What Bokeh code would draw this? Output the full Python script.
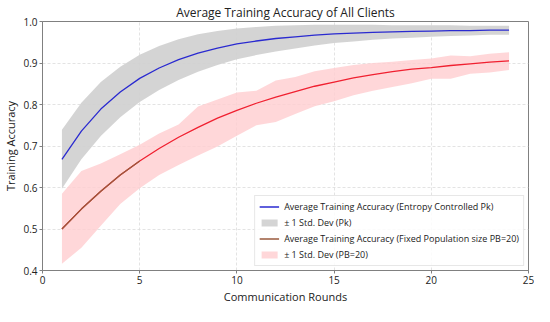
from bokeh.plotting import figure
from bokeh.models import ColumnDataSource, Legend, LegendItem, Range1d, FixedTicker, NumeralTickFormatter
from bokeh.embed import file_html
from bokeh.resources import INLINE

rounds = [1, 2, 3, 4, 5, 6, 7, 8, 9, 10, 11, 12, 13, 14, 15, 16, 17, 18, 19, 20, 21, 22, 23, 24]

pk_mean = [0.668, 0.736, 0.789, 0.830, 0.863, 0.888, 0.908, 0.924, 0.936, 0.946, 0.953, 0.959,
           0.963, 0.967, 0.970, 0.972, 0.974, 0.975, 0.976, 0.977, 0.978, 0.978, 0.979, 0.979]
pk_upper = [0.739, 0.804, 0.854, 0.891, 0.920, 0.941, 0.957, 0.969, 0.977, 0.983, 0.987, 0.990,
            0.991, 0.992, 0.992, 0.992, 0.992, 0.991, 0.991, 0.991, 0.991, 0.990, 0.990, 0.990]
pk_lower = [0.597, 0.668, 0.724, 0.769, 0.806, 0.835, 0.859, 0.879, 0.895, 0.909, 0.919, 0.928,
            0.935, 0.942, 0.948, 0.952, 0.956, 0.959, 0.961, 0.963, 0.965, 0.966, 0.968, 0.968]

pb_mean = [0.500, 0.548, 0.591, 0.630, 0.664, 0.694, 0.721, 0.745, 0.767, 0.786, 0.803, 0.818,
           0.831, 0.844, 0.854, 0.864, 0.872, 0.879, 0.885, 0.889, 0.894, 0.898, 0.902, 0.905]
pb_upper = [0.585, 0.640, 0.658, 0.680, 0.703, 0.730, 0.752, 0.795, 0.812, 0.829, 0.833, 0.858,
            0.866, 0.880, 0.888, 0.895, 0.900, 0.903, 0.907, 0.911, 0.918, 0.916, 0.922, 0.926]
pb_lower = [0.416, 0.455, 0.508, 0.560, 0.598, 0.630, 0.654, 0.677, 0.699, 0.725, 0.750, 0.758,
            0.777, 0.796, 0.808, 0.822, 0.833, 0.842, 0.851, 0.862, 0.862, 0.874, 0.877, 0.883]

x_ticks = [0, 5, 10, 15, 20, 25]
y_ticks = [0.4, 0.5, 0.6, 0.7, 0.8, 0.9, 1.0]

labels = [
    "Average Training Accuracy (Entropy Controlled Pk)",
    "\u00b1 1 Std. Dev (Pk)",
    "Average Training Accuracy (Fixed Population size PB=20)",
    "\u00b1 1 Std. Dev (PB=20)",
]

FONT = "Open Sans"
TXT = "#222222"

src = ColumnDataSource(dict(x=rounds, pkm=pk_mean, pku=pk_upper, pkl=pk_lower,
                            pbm=pb_mean, pbu=pb_upper, pbl=pb_lower))
n_brown = 5
src_brown = ColumnDataSource(dict(x=rounds[:n_brown], y=pb_mean[:n_brown]))

p = figure(width=534, height=306, output_backend="svg", toolbar_location=None,
           x_range=Range1d(0, 25), y_range=Range1d(0.4, 1.0),
           min_border_left=4, min_border_right=6, min_border_top=4, min_border_bottom=4)

p.title.text = "Average Training Accuracy of All Clients"
p.title.align = "center"
p.title.text_font = FONT
p.title.text_font_style = "normal"
p.title.text_font_size = "12px"
p.title.text_color = TXT
p.title.standoff = 2

band_pk = p.varea(x="x", y1="pkl", y2="pku", source=src, fill_color="#cfcfcf", fill_alpha=0.9)
line_pk = p.line(x="x", y="pkm", source=src, line_color="#2a2ad0", line_width=1.3)
band_pb = p.varea(x="x", y1="pbl", y2="pbu", source=src, fill_color="#ffcdd0", fill_alpha=0.8)
line_pb = p.line(x="x", y="pbm", source=src, line_color="#f02030", line_width=1.3)
line_br = p.line(x="x", y="y", source=src_brown, line_color="#9a5a3c", line_width=1.3)

p.xaxis.axis_label = "Communication Rounds"
p.yaxis.axis_label = "Training Accuracy"
for ax in (p.xaxis[0], p.yaxis[0]):
    ax.axis_label_text_font = FONT
    ax.axis_label_text_font_style = "normal"
    ax.axis_label_text_font_size = "11px"
    ax.axis_label_text_color = TXT
    ax.axis_label_standoff = 2
    ax.major_label_text_font = FONT
    ax.major_label_text_font_size = "10px"
    ax.major_label_text_color = TXT
    ax.major_label_standoff = 2
    ax.major_tick_out = 3
    ax.major_tick_in = 0
    ax.minor_tick_out = 0
    ax.minor_tick_in = 0
    ax.axis_line_color = "#808080"
    ax.major_tick_line_color = "#808080"
p.xaxis.ticker = FixedTicker(ticks=x_ticks)
p.yaxis.ticker = FixedTicker(ticks=y_ticks)
p.yaxis.formatter = NumeralTickFormatter(format="0.0")

p.outline_line_color = "#808080"
p.outline_line_width = 1
p.xgrid.ticker = FixedTicker(ticks=x_ticks)
p.ygrid.ticker = FixedTicker(ticks=y_ticks)
p.grid.grid_line_color = "#dcdcdc"
p.grid.grid_line_dash = "3 2"
p.grid.grid_line_alpha = 0.8

legend = Legend(items=[
    LegendItem(label=labels[0], renderers=[line_pk]),
    LegendItem(label=labels[1], renderers=[band_pk]),
    LegendItem(label=labels[2], renderers=[line_br]),
    LegendItem(label=labels[3], renderers=[band_pb]),
], location="bottom_right")
legend.label_text_font = FONT
legend.label_text_font_size = "9px"
legend.label_text_color = TXT
legend.glyph_width = 20
legend.glyph_height = 9
legend.label_height = 9
legend.spacing = 3
legend.padding = 4
legend.margin = 4
legend.border_line_color = "#d0d0d0"
legend.background_fill_alpha = 0.85
p.add_layout(legend)

open("out.html", "w").write(file_html(p, INLINE))
